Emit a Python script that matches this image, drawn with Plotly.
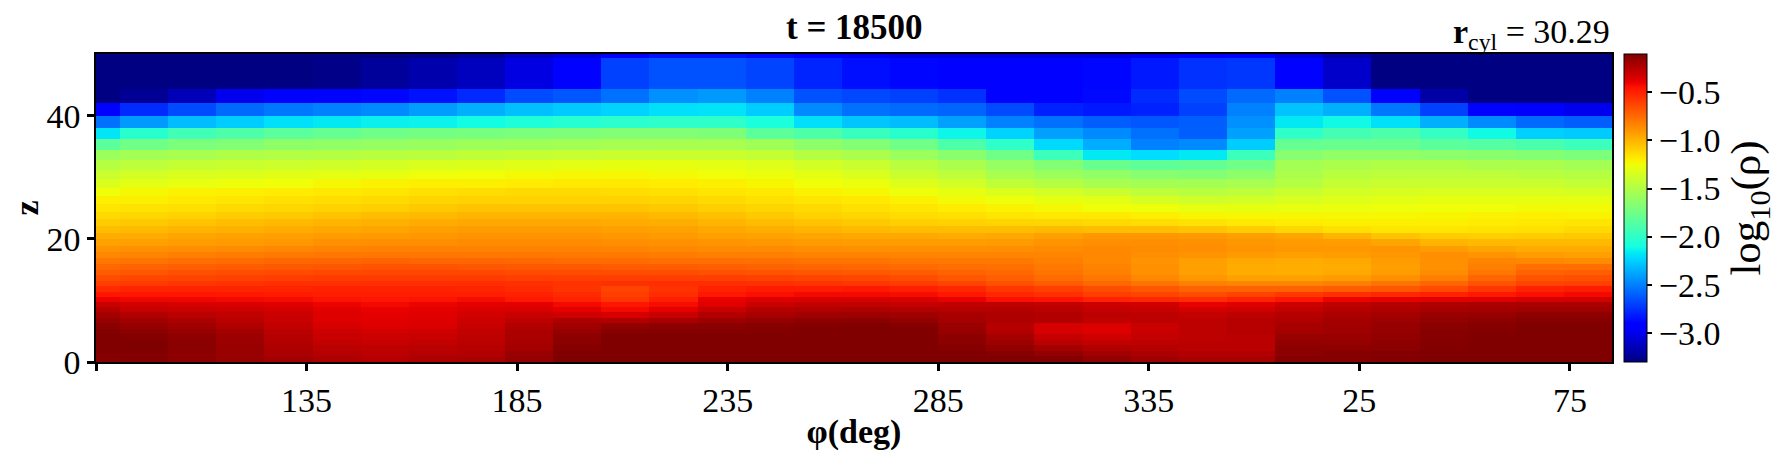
import numpy as np
import plotly.graph_objects as go

# Azimuth tick positions and their wrapped labels
phi_corner_tick = [85]
phi_ticks = [135, 185, 235, 285, 335, 385, 435]
phi_labels = ["135", "185", "235", "285", "335", "25", "75"]
z_ticks = [0, 20, 40]
cbar_ticks = [-3.0, -2.5, -2.0, -1.5, -1.0, -0.5]
rho_min, rho_max = -3.305, -0.1

# Grid cell edges in z, top to bottom
z_edges = [50, 49.4, 44.3, 42.1, 39.9, 38.0, 36.2, 34.4, 32.8, 31.2, 29.7, 28.3, 26.9, 25.6, 24.4, 23.2,
           22.1, 21.0, 19.9, 18.9, 17.9, 16.9, 15.9, 15.0, 14.1, 13.2, 12.3, 11.4, 10.6, 9.8, 9.0,
           8.1, 7.2, 6.3, 5.4, 4.5, 3.6, 2.7, 1.8, 0.9, 0]
# Grid cell edges in azimuth
phi_edges = [85.0, 90.71, 102.14, 113.57, 125.0, 136.43, 147.86, 159.29, 170.71, 182.14, 193.57, 205.0, 216.43,
             227.86, 239.29, 250.71, 262.14, 273.57, 285.0, 296.43, 307.86, 319.29, 330.71, 342.14, 353.57, 365.0,
             376.43, 387.86, 399.29, 410.71, 422.14, 433.57, 445.0]

# log10(rho), one list per z row, top to bottom
r00 = [-3.3,-3.3,-3.3,-3.3,-3.3,-3.3,-3.3,-3.28,-3.23,-3.13,-3.05,-2.9,-2.85,-2.85,-2.88,-2.95,-3.0,-3.05,-3.05,-3.05,-3.05,-3.05,-3.0,-2.92,-2.9,-3.05,-3.2,-3.3,-3.3,-3.3,-3.3,-3.3]
r01 = [-3.3,-3.3,-3.3,-3.3,-3.3,-3.28,-3.23,-3.18,-3.13,-3.03,-2.9,-2.70,-2.65,-2.65,-2.69,-2.79,-2.86,-2.89,-2.9,-2.9,-2.9,-2.89,-2.83,-2.75,-2.73,-2.9,-3.1,-3.3,-3.3,-3.3,-3.3,-3.3]
r02 = [-3.3,-3.25,-3.15,-3.0,-2.92,-2.9,-2.89,-2.85,-2.78,-2.67,-2.63,-2.55,-2.45,-2.42,-2.5,-2.65,-2.68,-2.7,-2.75,-2.9,-2.9,-2.88,-2.77,-2.67,-2.57,-2.5,-2.65,-2.92,-3.2,-3.3,-3.3,-3.3]
r03 = [-2.9,-2.77,-2.67,-2.57,-2.53,-2.5,-2.47,-2.41,-2.35,-2.3,-2.27,-2.24,-2.2,-2.19,-2.26,-2.47,-2.55,-2.57,-2.59,-2.67,-2.8,-2.83,-2.8,-2.7,-2.5,-2.29,-2.35,-2.53,-2.7,-2.9,-2.95,-3.0]
r04 = [-2.55,-2.42,-2.31,-2.26,-2.2,-2.17,-2.15,-2.14,-2.11,-2.07,-2.04,-2.02,-2.0,-2.0,-2.08,-2.2,-2.28,-2.31,-2.4,-2.5,-2.55,-2.61,-2.63,-2.61,-2.45,-2.17,-2.12,-2.2,-2.35,-2.47,-2.57,-2.61]
r05 = [-2.18,-2.03,-1.93,-1.88,-1.83,-1.79,-1.75,-1.73,-1.72,-1.7,-1.69,-1.68,-1.68,-1.69,-1.83,-1.88,-1.97,-2.03,-2.13,-2.24,-2.4,-2.47,-2.55,-2.61,-2.4,-2.0,-1.92,-1.88,-1.98,-2.12,-2.25,-2.27]
r06 = [-1.83,-1.75,-1.7,-1.68,-1.63,-1.62,-1.6,-1.59,-1.57,-1.56,-1.55,-1.54,-1.53,-1.53,-1.56,-1.63,-1.68,-1.75,-1.88,-2.0,-2.22,-2.36,-2.5,-2.47,-2.26,-1.79,-1.78,-1.78,-1.83,-1.85,-1.9,-1.95]
r07 = [-1.58,-1.55,-1.53,-1.5,-1.49,-1.48,-1.47,-1.46,-1.44,-1.42,-1.41,-1.4,-1.4,-1.4,-1.42,-1.48,-1.52,-1.58,-1.65,-1.75,-1.95,-2.17,-2.21,-2.17,-1.95,-1.66,-1.62,-1.62,-1.64,-1.65,-1.67,-1.7]
r08 = [-1.48,-1.45,-1.42,-1.4,-1.39,-1.38,-1.36,-1.34,-1.33,-1.31,-1.3,-1.29,-1.29,-1.3,-1.32,-1.37,-1.4,-1.46,-1.52,-1.6,-1.68,-1.78,-1.82,-1.8,-1.75,-1.55,-1.52,-1.5,-1.5,-1.52,-1.52,-1.55]
r09 = [-1.4,-1.37,-1.34,-1.33,-1.31,-1.3,-1.29,-1.26,-1.25,-1.24,-1.23,-1.23,-1.24,-1.25,-1.27,-1.3,-1.34,-1.4,-1.45,-1.53,-1.58,-1.62,-1.66,-1.68,-1.64,-1.52,-1.47,-1.45,-1.45,-1.45,-1.47,-1.48]
r10 = [-1.33,-1.3,-1.28,-1.26,-1.25,-1.23,-1.21,-1.2,-1.2,-1.19,-1.18,-1.18,-1.19,-1.2,-1.22,-1.25,-1.27,-1.32,-1.37,-1.44,-1.48,-1.53,-1.55,-1.55,-1.54,-1.48,-1.42,-1.4,-1.4,-1.4,-1.4,-1.43]
r11 = [-1.25,-1.23,-1.21,-1.2,-1.19,-1.18,-1.17,-1.15,-1.14,-1.13,-1.13,-1.14,-1.15,-1.17,-1.18,-1.21,-1.23,-1.26,-1.29,-1.33,-1.37,-1.4,-1.45,-1.47,-1.45,-1.4,-1.37,-1.35,-1.34,-1.34,-1.34,-1.35]
r12 = [-1.2,-1.2,-1.18,-1.17,-1.15,-1.14,-1.13,-1.11,-1.1,-1.1,-1.1,-1.1,-1.11,-1.13,-1.15,-1.17,-1.18,-1.21,-1.24,-1.26,-1.29,-1.3,-1.35,-1.38,-1.37,-1.34,-1.32,-1.3,-1.29,-1.29,-1.29,-1.29]
r13 = [-1.17,-1.16,-1.15,-1.13,-1.12,-1.1,-1.09,-1.07,-1.05,-1.05,-1.05,-1.05,-1.07,-1.09,-1.11,-1.13,-1.15,-1.17,-1.19,-1.21,-1.23,-1.25,-1.26,-1.29,-1.29,-1.28,-1.27,-1.26,-1.25,-1.25,-1.24,-1.24]
r14 = [-1.13,-1.12,-1.1,-1.08,-1.07,-1.05,-1.03,-1.02,-1.0,-1.0,-1.0,-1.0,-1.02,-1.04,-1.07,-1.1,-1.12,-1.14,-1.15,-1.17,-1.18,-1.18,-1.2,-1.22,-1.23,-1.23,-1.23,-1.23,-1.22,-1.21,-1.2,-1.21]
r15 = [-1.08,-1.07,-1.05,-1.03,-1.02,-1.0,-0.99,-0.97,-0.96,-0.96,-0.96,-0.97,-0.98,-1.0,-1.03,-1.05,-1.07,-1.09,-1.1,-1.11,-1.12,-1.13,-1.14,-1.16,-1.18,-1.19,-1.2,-1.2,-1.2,-1.19,-1.18,-1.17]
r16 = [-1.03,-1.02,-1.0,-0.99,-0.97,-0.96,-0.95,-0.93,-0.92,-0.92,-0.92,-0.93,-0.94,-0.96,-0.98,-1.0,-1.02,-1.03,-1.03,-1.03,-1.02,-1.03,-1.03,-1.05,-1.08,-1.12,-1.15,-1.17,-1.17,-1.16,-1.15,-1.13]
r17 = [-0.98,-0.97,-0.95,-0.94,-0.93,-0.92,-0.91,-0.9,-0.89,-0.89,-0.89,-0.9,-0.91,-0.93,-0.94,-0.95,-0.96,-0.96,-0.97,-0.96,-0.93,-0.9,-0.9,-0.91,-0.93,-0.95,-1.0,-1.05,-1.08,-1.09,-1.08,-1.07]
r18 = [-0.94,-0.93,-0.92,-0.91,-0.9,-0.88,-0.87,-0.87,-0.86,-0.86,-0.86,-0.87,-0.88,-0.89,-0.9,-0.91,-0.92,-0.92,-0.92,-0.91,-0.89,-0.87,-0.87,-0.88,-0.9,-0.91,-0.92,-0.95,-1.0,-1.02,-1.02,-1.02]
r19 = [-0.89,-0.88,-0.87,-0.86,-0.85,-0.84,-0.83,-0.83,-0.83,-0.83,-0.83,-0.84,-0.85,-0.86,-0.86,-0.87,-0.88,-0.88,-0.88,-0.87,-0.86,-0.85,-0.86,-0.87,-0.89,-0.9,-0.9,-0.89,-0.92,-0.95,-0.97,-0.97]
r20 = [-0.85,-0.84,-0.82,-0.81,-0.8,-0.79,-0.79,-0.79,-0.79,-0.79,-0.8,-0.8,-0.81,-0.82,-0.82,-0.83,-0.83,-0.84,-0.84,-0.84,-0.84,-0.85,-0.87,-0.89,-0.91,-0.93,-0.92,-0.9,-0.87,-0.89,-0.92,-0.93]
r21 = [-0.79,-0.78,-0.76,-0.75,-0.74,-0.73,-0.72,-0.73,-0.73,-0.74,-0.75,-0.75,-0.76,-0.76,-0.77,-0.78,-0.78,-0.79,-0.8,-0.8,-0.82,-0.85,-0.89,-0.93,-0.96,-0.97,-0.96,-0.92,-0.88,-0.84,-0.85,-0.86]
r22 = [-0.74,-0.72,-0.71,-0.7,-0.69,-0.68,-0.67,-0.67,-0.68,-0.69,-0.69,-0.7,-0.7,-0.71,-0.72,-0.73,-0.74,-0.75,-0.76,-0.77,-0.8,-0.83,-0.88,-0.93,-0.97,-0.98,-0.97,-0.93,-0.88,-0.82,-0.77,-0.76]
r23 = [-0.7,-0.68,-0.66,-0.65,-0.64,-0.63,-0.63,-0.63,-0.63,-0.64,-0.65,-0.65,-0.65,-0.66,-0.67,-0.68,-0.69,-0.7,-0.72,-0.74,-0.78,-0.82,-0.88,-0.93,-0.97,-0.98,-0.96,-0.92,-0.86,-0.79,-0.72,-0.71]
r24 = [-0.65,-0.63,-0.62,-0.61,-0.6,-0.59,-0.59,-0.59,-0.59,-0.6,-0.6,-0.6,-0.6,-0.6,-0.61,-0.62,-0.63,-0.65,-0.68,-0.71,-0.75,-0.79,-0.85,-0.9,-0.94,-0.94,-0.92,-0.88,-0.82,-0.73,-0.67,-0.66]
r25 = [-0.6,-0.58,-0.57,-0.56,-0.55,-0.55,-0.54,-0.54,-0.54,-0.55,-0.56,-0.55,-0.54,-0.54,-0.55,-0.56,-0.57,-0.59,-0.62,-0.66,-0.7,-0.74,-0.78,-0.82,-0.84,-0.84,-0.82,-0.78,-0.73,-0.67,-0.62,-0.61]
r26 = [-0.53,-0.51,-0.51,-0.51,-0.51,-0.5,-0.5,-0.5,-0.51,-0.53,-0.56,-0.62,-0.56,-0.5,-0.48,-0.48,-0.47,-0.49,-0.52,-0.57,-0.6,-0.65,-0.68,-0.72,-0.72,-0.72,-0.7,-0.68,-0.64,-0.57,-0.5,-0.48]
r27 = [-0.46,-0.46,-0.46,-0.47,-0.48,-0.49,-0.49,-0.49,-0.49,-0.5,-0.53,-0.6,-0.54,-0.47,-0.44,-0.42,-0.42,-0.43,-0.47,-0.52,-0.55,-0.6,-0.62,-0.65,-0.62,-0.58,-0.55,-0.52,-0.5,-0.47,-0.44,-0.42]
r28 = [-0.4,-0.41,-0.41,-0.42,-0.43,-0.45,-0.46,-0.45,-0.43,-0.47,-0.5,-0.57,-0.49,-0.39,-0.36,-0.35,-0.34,-0.35,-0.39,-0.44,-0.45,-0.5,-0.52,-0.54,-0.5,-0.46,-0.4,-0.38,-0.37,-0.36,-0.34,-0.33]
r29 = [-0.3,-0.33,-0.34,-0.35,-0.37,-0.4,-0.42,-0.4,-0.38,-0.38,-0.42,-0.46,-0.43,-0.37,-0.3,-0.28,-0.28,-0.29,-0.28,-0.27,-0.28,-0.31,-0.32,-0.39,-0.37,-0.31,-0.27,-0.25,-0.23,-0.22,-0.22,-0.22]
r30 = [-0.25,-0.29,-0.3,-0.31,-0.33,-0.37,-0.39,-0.38,-0.35,-0.34,-0.38,-0.42,-0.38,-0.3,-0.25,-0.24,-0.23,-0.24,-0.25,-0.25,-0.26,-0.29,-0.3,-0.33,-0.32,-0.28,-0.25,-0.23,-0.21,-0.2,-0.19,-0.19]
r31 = [-0.2,-0.24,-0.26,-0.28,-0.31,-0.36,-0.38,-0.37,-0.33,-0.3,-0.32,-0.34,-0.3,-0.24,-0.21,-0.19,-0.18,-0.19,-0.21,-0.23,-0.24,-0.26,-0.27,-0.29,-0.27,-0.25,-0.22,-0.2,-0.17,-0.16,-0.14,-0.14]
r32 = [-0.16,-0.19,-0.22,-0.26,-0.3,-0.36,-0.37,-0.36,-0.31,-0.27,-0.23,-0.24,-0.21,-0.18,-0.16,-0.14,-0.13,-0.15,-0.2,-0.23,-0.24,-0.28,-0.27,-0.27,-0.25,-0.23,-0.2,-0.18,-0.15,-0.14,-0.12,-0.12]
r33 = [-0.13,-0.16,-0.19,-0.23,-0.28,-0.34,-0.36,-0.35,-0.3,-0.24,-0.19,-0.15,-0.14,-0.13,-0.12,-0.11,-0.1,-0.11,-0.17,-0.25,-0.34,-0.35,-0.3,-0.27,-0.25,-0.21,-0.19,-0.16,-0.13,-0.12,-0.1,-0.1]
r34 = [-0.11,-0.13,-0.16,-0.2,-0.26,-0.31,-0.33,-0.32,-0.28,-0.22,-0.16,-0.12,-0.11,-0.11,-0.11,-0.1,-0.1,-0.1,-0.16,-0.24,-0.34,-0.36,-0.3,-0.27,-0.25,-0.2,-0.19,-0.16,-0.12,-0.11,-0.1,-0.1]
r35 = [-0.1,-0.11,-0.14,-0.18,-0.25,-0.3,-0.31,-0.3,-0.27,-0.22,-0.14,-0.1,-0.1,-0.1,-0.1,-0.1,-0.1,-0.1,-0.14,-0.2,-0.29,-0.32,-0.29,-0.27,-0.26,-0.17,-0.17,-0.15,-0.12,-0.1,-0.1,-0.1]
r36 = [-0.1,-0.1,-0.13,-0.18,-0.24,-0.28,-0.3,-0.28,-0.26,-0.21,-0.13,-0.1,-0.1,-0.1,-0.1,-0.1,-0.1,-0.1,-0.13,-0.18,-0.26,-0.28,-0.27,-0.26,-0.26,-0.15,-0.16,-0.14,-0.11,-0.1,-0.1,-0.1]
r37 = [-0.1,-0.1,-0.13,-0.17,-0.23,-0.26,-0.27,-0.26,-0.25,-0.2,-0.12,-0.1,-0.1,-0.1,-0.1,-0.1,-0.1,-0.1,-0.12,-0.15,-0.2,-0.24,-0.25,-0.26,-0.26,-0.14,-0.14,-0.13,-0.11,-0.1,-0.1,-0.1]
r38 = [-0.11,-0.11,-0.14,-0.17,-0.22,-0.25,-0.26,-0.25,-0.24,-0.17,-0.1,-0.1,-0.1,-0.1,-0.1,-0.1,-0.1,-0.1,-0.1,-0.12,-0.15,-0.19,-0.22,-0.24,-0.24,-0.13,-0.12,-0.11,-0.1,-0.1,-0.1,-0.1]
r39 = [-0.12,-0.11,-0.14,-0.17,-0.2,-0.23,-0.25,-0.23,-0.22,-0.16,-0.1,-0.1,-0.1,-0.1,-0.1,-0.1,-0.1,-0.1,-0.1,-0.1,-0.11,-0.15,-0.19,-0.22,-0.22,-0.12,-0.12,-0.11,-0.1,-0.1,-0.1,-0.1]

rows = [r00, r01, r02, r03, r04, r05, r06, r07, r08, r09, r10, r11, r12, r13, r14, r15, r16, r17, r18, r19,
        r20, r21, r22, r23, r24, r25, r26, r27, r28, r29, r30, r31, r32, r33, r34, r35, r36, r37, r38, r39]
for i, r in enumerate(rows):
    assert len(r) == 32, (i, len(r))

# Matplotlib "jet" colour map
red = ([0, .35, .66, .89, 1], [0, 0, 1, 1, .5])
green = ([0, .125, .375, .64, .91, 1], [0, 0, 1, 1, 0, 0])
blue = ([0, .11, .34, .65, 1], [.5, 1, 1, 0, 0])
stops = sorted(set(red[0] + green[0] + blue[0]))
jet = [[s, "rgb(%d,%d,%d)" % tuple(round(255 * np.interp(s, *c)) for c in (red, green, blue))] for s in stops]

SERIF = "Liberation Serif"
fig = go.Figure(go.Heatmap(
    x=phi_edges, y=z_edges[::-1], z=rows[::-1],
    colorscale=jet, zmin=rho_min, zmax=rho_max, zsmooth=False,
    colorbar=dict(
        x=1.0078, xanchor="left", y=0, yanchor="bottom", len=1, lenmode="fraction",
        thickness=23, thicknessmode="pixels", outlinewidth=1, outlinecolor="black", xpad=0, ypad=0,
        tickmode="array", tickvals=cbar_ticks, ticktext=["−3.0", "−2.5", "−2.0", "−1.5", "−1.0", "−0.5"],
        ticks="outside", ticklen=5, tickwidth=1.5, tickcolor="black",
        tickfont=dict(family=SERIF, size=34, color="black"),
        title=dict(text="log<sub>10</sub>(ρ)", side="right", font=dict(family=SERIF, size=43, color="black")),
    ),
))
fig.update_layout(
    width=1772, height=449, autosize=False,
    margin=dict(l=88.4, r=168.3, t=46, b=94.7, pad=0, autoexpand=False),
    paper_bgcolor="white", plot_bgcolor="white", showlegend=False,
    xaxis=dict(range=[85, 445], tickmode="array", tickvals=phi_ticks, ticktext=phi_labels, automargin=False,
               minor=dict(tickmode="array", tickvals=phi_corner_tick, ticks="outside", ticklen=7, tickwidth=3, tickcolor="black", showgrid=False),
               ticks="outside", ticklen=7, tickwidth=3, tickcolor="black",
               showline=True, linecolor="black", linewidth=1.5, mirror=True, showgrid=False, zeroline=False,
               tickfont=dict(family=SERIF, size=34, color="black"),
               title=dict(text="<b>φ(deg)</b>", standoff=2, font=dict(family=SERIF, size=34, color="black"))),
    yaxis=dict(range=[0, 50], tickmode="array", tickvals=z_ticks, automargin=False,
               ticks="outside", ticklen=7, tickwidth=3, tickcolor="black",
               showline=True, linecolor="black", linewidth=1.5, mirror=True, showgrid=False, zeroline=False,
               tickfont=dict(family=SERIF, size=34, color="black"),
               title=dict(text="<b>z</b>", standoff=2, font=dict(family=SERIF, size=34, color="black"))),
    annotations=[
        dict(text="<b>t = 18500</b>", xref="paper", yref="paper", x=0.5, y=1, yshift=5, xanchor="center", yanchor="bottom",
             showarrow=False, font=dict(family=SERIF, size=35, color="black")),
        dict(text="<b>r</b><sub>cyl</sub> = 30.29", xref="paper", yref="paper", x=1, y=1, yshift=-3, xanchor="right", yanchor="bottom",
             showarrow=False, font=dict(family=SERIF, size=34, color="black")),
    ],
)
fig.write_html("out.html")
